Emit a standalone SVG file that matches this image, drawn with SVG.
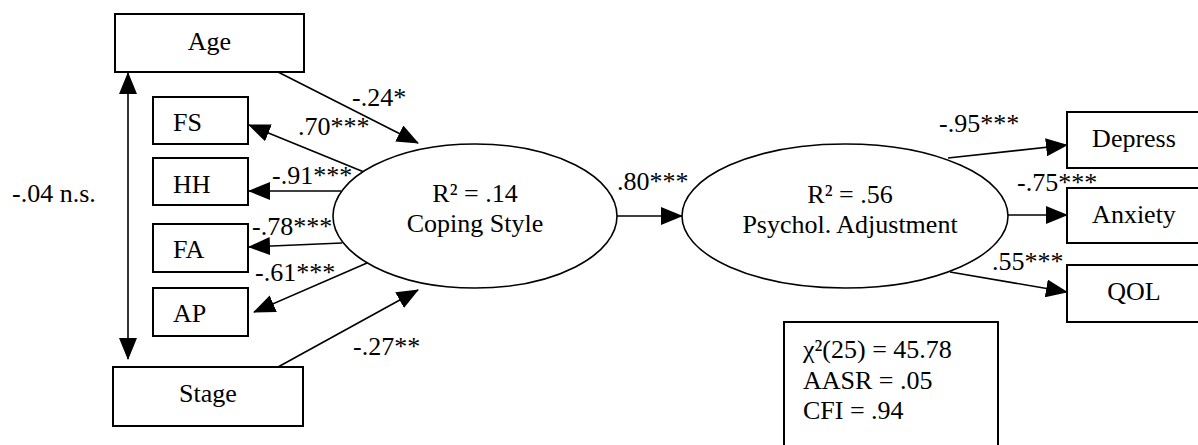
<svg xmlns="http://www.w3.org/2000/svg" width="1198" height="445" viewBox="0 0 1198 445">
<style>
text{font-family:'Liberation Serif','DejaVu Serif',serif;font-size:26px;fill:#000}
.box{fill:#fff;stroke:#000;stroke-width:2}
.ell{fill:#fff;stroke:#000;stroke-width:1.6}
.c{text-anchor:middle}
.ln{stroke:#000;stroke-width:1.6;fill:none;marker-end:url(#ah)}
</style>
<defs>
<marker id="ah" markerUnits="userSpaceOnUse" markerWidth="22" markerHeight="18" refX="21" refY="9" orient="auto-start-reverse" viewBox="0 0 22 18">
<path d="M0,0 L22,9 L0,18 z" fill="#000"/>
</marker>
</defs>
<rect width="1198" height="445" fill="#fff"/>
<g id="connectors" font-family="Liberation Serif, serif">
<line class="ln" x1="128" y1="359" x2="128" y2="73" style="marker-start:url(#ah)"/>
<line class="ln" x1="278" y1="72" x2="418" y2="143"/>
<line class="ln" x1="278" y1="367" x2="418" y2="290"/>
<line class="ln" x1="364" y1="172" x2="249" y2="125"/>
<line class="ln" x1="341" y1="191" x2="249" y2="191"/>
<line class="ln" x1="342" y1="243" x2="249" y2="247"/>
<line class="ln" x1="367" y1="263" x2="254" y2="312"/>
<line class="ln" x1="617" y1="216" x2="682" y2="216"/>
<line class="ln" x1="948" y1="158" x2="1067" y2="145"/>
<line class="ln" x1="1008" y1="215" x2="1067" y2="215"/>
<line class="ln" x1="950" y1="272" x2="1067" y2="292"/>
<text x="352" y="106">-.24*</text>
<text x="298" y="135">.70***</text>
<text x="272" y="184">-.91***</text>
<text x="252" y="235">-.78***</text>
<text x="255" y="281">-.61***</text>
<text x="353" y="355">-.27**</text>
<text x="12" y="202">-.04 n.s.</text>
<text x="617" y="190">.80***</text>
<text x="939" y="132">-.95***</text>
<text x="1017" y="191">-.75***</text>
<text x="992" y="270">.55***</text>
</g>
<g id="age"><rect class="box" x="115" y="14" width="189" height="58"/><text class="c" x="209.5" y="50">Age</text></g>
<g id="stage"><rect class="box" x="113" y="367" width="190" height="59"/><text class="c" x="208" y="402">Stage</text></g>
<g id="fs"><rect class="box" x="153" y="97" width="95" height="47"/><text x="173" y="131">FS</text></g>
<g id="hh"><rect class="box" x="153" y="158" width="95" height="47"/><text x="173" y="193">HH</text></g>
<g id="fa"><rect class="box" x="153" y="224" width="95" height="48"/><text x="173" y="258">FA</text></g>
<g id="ap"><rect class="box" x="153" y="288" width="95" height="48"/><text x="173" y="322">AP</text></g>
<g id="coping"><ellipse class="ell" cx="475" cy="216" rx="142" ry="72"/><text class="c" x="475" y="202">R² = .14</text><text class="c" x="475" y="232">Coping Style</text></g>
<g id="psychol"><ellipse class="ell" cx="845" cy="216" rx="163" ry="72"/><text class="c" x="850" y="203">R² = .56</text><text class="c" x="850" y="233">Psychol. Adjustment</text></g>
<g id="depress"><rect class="box" x="1067" y="112" width="134" height="56"/><text class="c" x="1134" y="147">Depress</text></g>
<g id="anxiety"><rect class="box" x="1067" y="188" width="134" height="55"/><text class="c" x="1134" y="223">Anxiety</text></g>
<g id="qol"><rect class="box" x="1067" y="265" width="134" height="57"/><text class="c" x="1134" y="300">QOL</text></g>
<g id="fit"><rect class="box" x="784" y="322" width="214" height="130"/>
<text x="803" y="358">χ²(25) = 45.78</text>
<text x="803" y="389">AASR = .05</text>
<text x="803" y="419">CFI = .94</text></g>
</svg>
